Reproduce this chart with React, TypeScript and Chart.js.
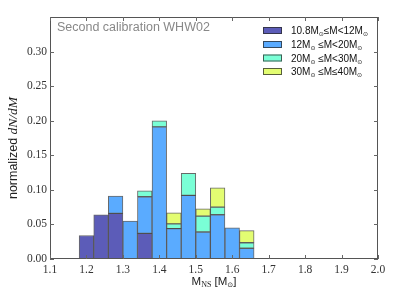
import React, { useEffect, useRef } from "react";
import { Chart, registerables } from "chart.js";

Chart.register(...registerables);

const binCenters = [1.2, 1.24, 1.28, 1.32, 1.36, 1.4, 1.44, 1.48, 1.52, 1.56, 1.6, 1.64];
const massA = [0.034, 0.064, 0.066, null, 0.037, null, null, null, null, null, null, null];
const massB = [null, null, 0.025, 0.055, 0.053, 0.191, 0.044, 0.092, 0.039, 0.064, 0.045, 0.0155];
const massC = [null, null, null, null, 0.0085, 0.009, 0.0067, 0.032, 0.023, 0.011, null, 0.008];
const massD = [null, null, null, null, null, null, 0.016, null, 0.0105, 0.028, null, 0.0175];
const seriesLabels = ["10.8M⊙≤M<12M⊙", "12M⊙ ≤M<20M⊙", "20M⊙ ≤M<30M⊙", "30M⊙ ≤M≤40M⊙"];
const seriesColors = ["#5c5cb8", "#5aabff", "#7affd6", "#e3fd72"];
const xTicks = [1.1, 1.2, 1.3, 1.4, 1.5, 1.6, 1.7, 1.8, 1.9, 2.0];
const yTicks = [0, 0.05, 0.1, 0.15, 0.2, 0.25, 0.3];
const plotTitle = "Second calibration WHW02";

const SANS = "'Liberation Sans', 'DejaVu Sans', sans-serif";
const SERIF = "'Liberation Serif', 'DejaVu Serif', serif";

type Seg = { t: string; size: number; dy: number; font: string; style?: string };

function drawSegs(ctx: CanvasRenderingContext2D, segs: Seg[], x: number, y: number, align: "left" | "center") {
  let total = 0;
  const widths = segs.map((s) => {
    ctx.font = `${s.style || ""} ${s.size}px ${s.font}`;
    const w = ctx.measureText(s.t).width;
    total += w;
    return w;
  });
  let cx = align === "center" ? x - total / 2 : x;
  ctx.textAlign = "left";
  ctx.textBaseline = "alphabetic";
  segs.forEach((s, i) => {
    ctx.font = `${s.style || ""} ${s.size}px ${s.font}`;
    ctx.fillText(s.t, cx, y + s.dy);
    cx += widths[i];
  });
}

function sunSegs(label: string, size: number): Seg[] {
  const parts = label.split("⊙");
  const segs: Seg[] = [];
  parts.forEach((p, i) => {
    if (p) segs.push({ t: p, size, dy: 0, font: SANS });
    if (i < parts.length - 1) segs.push({ t: "⊙", size: size * 0.6, dy: 2, font: "'DejaVu Sans', sans-serif" });
  });
  return segs;
}

const decorPlugin = {
  id: "decor",
  afterDraw(chart: any) {
    const ctx: CanvasRenderingContext2D = chart.ctx;
    const { left, right, top, bottom } = chart.chartArea;
    const xs = chart.scales.x;
    const ys = chart.scales.y;
    ctx.save();
    ctx.strokeStyle = "#555";
    ctx.lineWidth = 1;
    ctx.strokeRect(left + 0.5, top + 0.5, right - left - 1, bottom - top - 1);
    ctx.strokeStyle = "#666";
    ctx.beginPath();
    xTicks.forEach((v) => {
      const px = Math.round(xs.getPixelForValue(v)) + 0.5;
      ctx.moveTo(px, bottom);
      ctx.lineTo(px, bottom - 4);
      ctx.moveTo(px, top);
      ctx.lineTo(px, top + 4);
    });
    yTicks.forEach((v) => {
      const py = Math.round(ys.getPixelForValue(v)) + 0.5;
      ctx.moveTo(left, py);
      ctx.lineTo(left + 4, py);
      ctx.moveTo(right, py);
      ctx.lineTo(right - 4, py);
    });
    ctx.stroke();
    ctx.fillStyle = "#888";
    ctx.font = `12.5px ${SANS}`;
    ctx.textAlign = "left";
    ctx.textBaseline = "middle";
    ctx.fillText(plotTitle, left + 7, top + 11);
    const lx = 263;
    const rows = [30, 44, 57.5, 71];
    seriesLabels.forEach((lab, i) => {
      const y = rows[i];
      ctx.fillStyle = seriesColors[i];
      ctx.fillRect(lx, y - 3, 19, 7);
      ctx.strokeStyle = "rgba(40,40,40,0.75)";
      ctx.strokeRect(lx + 0.5, y - 2.5, 18, 6);
      ctx.fillStyle = "#111";
      drawSegs(ctx, sunSegs(lab, 10), 291, y + 4, "left");
    });
    ctx.fillStyle = "#222";
    drawSegs(
      ctx,
      [
        { t: "M", size: 11.5, dy: 0, font: SANS },
        { t: "NS", size: 8, dy: 2, font: SERIF },
        { t: " [M", size: 11.5, dy: 0, font: SANS },
        { t: "⊙", size: 7, dy: 2, font: "'DejaVu Sans', sans-serif" },
        { t: "]", size: 11.5, dy: 0, font: SANS },
      ],
      (left + right) / 2,
      285,
      "center"
    );
    ctx.save();
    ctx.translate(17, 148);
    ctx.rotate(-Math.PI / 2);
    drawSegs(
      ctx,
      [
        { t: "normalized ", size: 12.5, dy: 0, font: SANS },
        { t: "dN/dM", size: 13.5, dy: 0, font: SERIF, style: "italic" },
      ],
      0,
      0,
      "center"
    );
    ctx.restore();
    ctx.restore();
  },
};

export default function App() {
  const ref = useRef<HTMLCanvasElement | null>(null);
  useEffect(() => {
    if (!ref.current) return;
    const series = [massA, massB, massC, massD];
    const chart = new Chart(ref.current, {
      type: "bar",
      data: {
        datasets: series.map((arr, i) => ({
          label: seriesLabels[i],
          data: binCenters.map((x, j) => ({ x, y: arr[j] })),
          backgroundColor: seriesColors[i],
          borderColor: "rgba(40,40,40,0.7)",
          borderWidth: 1,
          borderSkipped: false,
          barPercentage: 1,
          categoryPercentage: 1,
          stack: "all",
        })) as any,
      },
      options: {
        animation: false,
        responsive: false,
        devicePixelRatio: 1,
        layout: { padding: { left: 0, top: 17, right: 21, bottom: 0 } },
        plugins: { legend: { display: false }, tooltip: { enabled: false }, title: { display: false } },
        scales: {
          x: {
            type: "linear",
            min: 1.1,
            max: 2.0,
            offset: false,
            grid: { display: false, drawTicks: false, offset: false },
            border: { display: false },
            afterBuildTicks: (s: any) => {
              s.ticks = xTicks.map((v) => ({ value: v }));
            },
            afterFit: (s: any) => {
              s.height = 42;
            },
            ticks: {
              padding: 4,
              color: "#333",
              font: { family: SERIF, size: 11.5 },
              maxRotation: 0,
              autoSkip: false,
              callback: (v: any) => Number(v).toFixed(1),
            },
          },
          y: {
            type: "linear",
            min: 0,
            max: 0.35,
            stacked: true,
            grid: { display: false, drawTicks: false },
            border: { display: false },
            afterBuildTicks: (s: any) => {
              s.ticks = yTicks.map((v) => ({ value: v }));
            },
            afterFit: (s: any) => {
              s.width = 50;
            },
            ticks: {
              padding: 3,
              color: "#333",
              font: { family: SERIF, size: 11.5 },
              autoSkip: false,
              callback: (v: any) => Number(v).toFixed(2),
            },
          },
        },
      } as any,
      plugins: [decorPlugin],
    });
    return () => chart.destroy();
  }, []);
  return (
    <div style={{ position: "fixed", left: 0, top: 0, width: 399, height: 301, background: "#fff" }}>
      <canvas ref={ref} width={399} height={301} />
    </div>
  );
}
